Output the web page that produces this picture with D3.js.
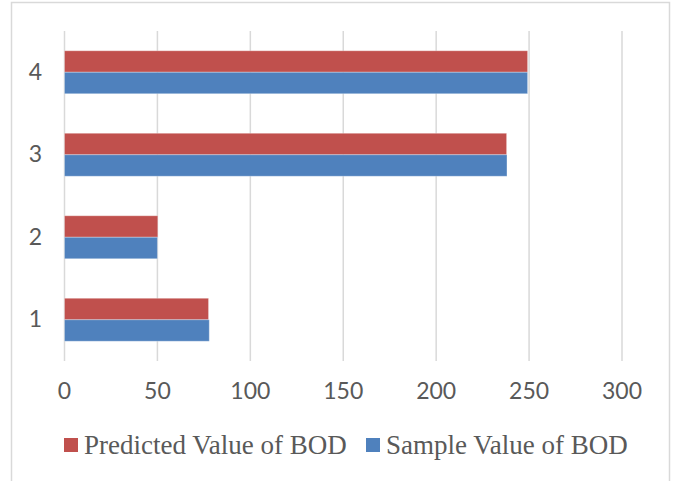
<!DOCTYPE html>
<html>
<head>
<meta charset="utf-8">
<script src="https://cdn.jsdelivr.net/npm/d3@7"></script>
<style>
  body { margin: 0; background: #fff; }
  .tick text { fill: #595959; font-family: "Liberation Sans Narrow", Lato, sans-serif; font-size: 23px; }
  .legend text { fill: #595959; font-family: "Liberation Serif", "Times New Roman", serif; font-size: 27px; }
</style>
</head>
<body>
<div id="chart"></div>
<script>
var categories = ["1", "2", "3", "4"];
var seriesNames = ["Predicted Value of BOD", "Sample Value of BOD"];
var predicted = [77.5, 50.2, 237.9, 249.2];
var sample = [77.9, 50.0, 238.1, 249.2];
var xTicks = [0, 50, 100, 150, 200, 250, 300];
var colors = ["#C0504D", "#4F81BD"];

var svgWidth = 674;
var svgHeight = 481;

var plot = { left: 64, right: 621.5, top: 31, bottom: 361 };

var svg = d3.select("#chart")
  .append("svg")
  .attr("width", svgWidth)
  .attr("height", svgHeight);

// chart border
svg.append("rect")
  .attr("x", 11.5)
  .attr("y", 2.5)
  .attr("width", 658)
  .attr("height", 520)
  .attr("fill", "none")
  .attr("stroke", "#d9d9d9")
  .attr("stroke-width", 1.5);

var data = categories.map((c, i) => ({ cat: c, values: [predicted[i], sample[i]] }));

var x = d3.scaleLinear()
  .domain([0, 300])
  .range([plot.left, plot.right]);

var y = d3.scaleBand()
  .domain(categories.slice().reverse())
  .range([plot.top, plot.bottom]);

var y1 = d3.scaleBand()
  .domain([0, 1])
  .range([0, y.bandwidth()])
  .paddingOuter(0.92);

// x axis with gridlines
var xAxis = svg.append("g")
  .attr("transform", `translate(0, ${plot.bottom})`)
  .call(d3.axisBottom(x).tickValues(xTicks).tickSize(-(plot.bottom - plot.top)).tickPadding(22));
xAxis.select(".domain").remove();
xAxis.selectAll(".tick line")
  .attr("stroke", "#d9d9d9")
  .attr("stroke-width", 1.5);

// y axis labels
var yAxis = svg.append("g")
  .attr("transform", `translate(${plot.left}, 0)`)
  .call(d3.axisLeft(y).tickSize(0).tickPadding(22));
yAxis.select(".domain").remove();

// bars
var groups = svg.append("g").selectAll("g")
  .data(data)
  .enter()
  .append("g")
  .attr("transform", d => `translate(0, ${y(d.cat)})`);

groups.selectAll("rect")
  .data(d => d.values.map((v, i) => ({ v: v, i: i })))
  .enter()
  .append("rect")
  .attr("x", x(0) + 0.5)
  .attr("y", d => y1(d.i))
  .attr("width", d => x(d.v) - x(0))
  .attr("height", y1.bandwidth())
  .attr("fill", d => colors[d.i])
  .attr("stroke", "rgba(255,255,255,0.3)")
  .attr("stroke-width", 1);

// legend
var legend = svg.append("g").attr("class", "legend");
var legendX = [64, 366];
seriesNames.forEach(function(name, i) {
  legend.append("rect")
    .attr("x", legendX[i])
    .attr("y", 438)
    .attr("width", 14)
    .attr("height", 14)
    .attr("fill", colors[i]);
  legend.append("text")
    .attr("x", legendX[i] + 20)
    .attr("y", 454)
    .text(name);
});
</script>
</body>
</html>
